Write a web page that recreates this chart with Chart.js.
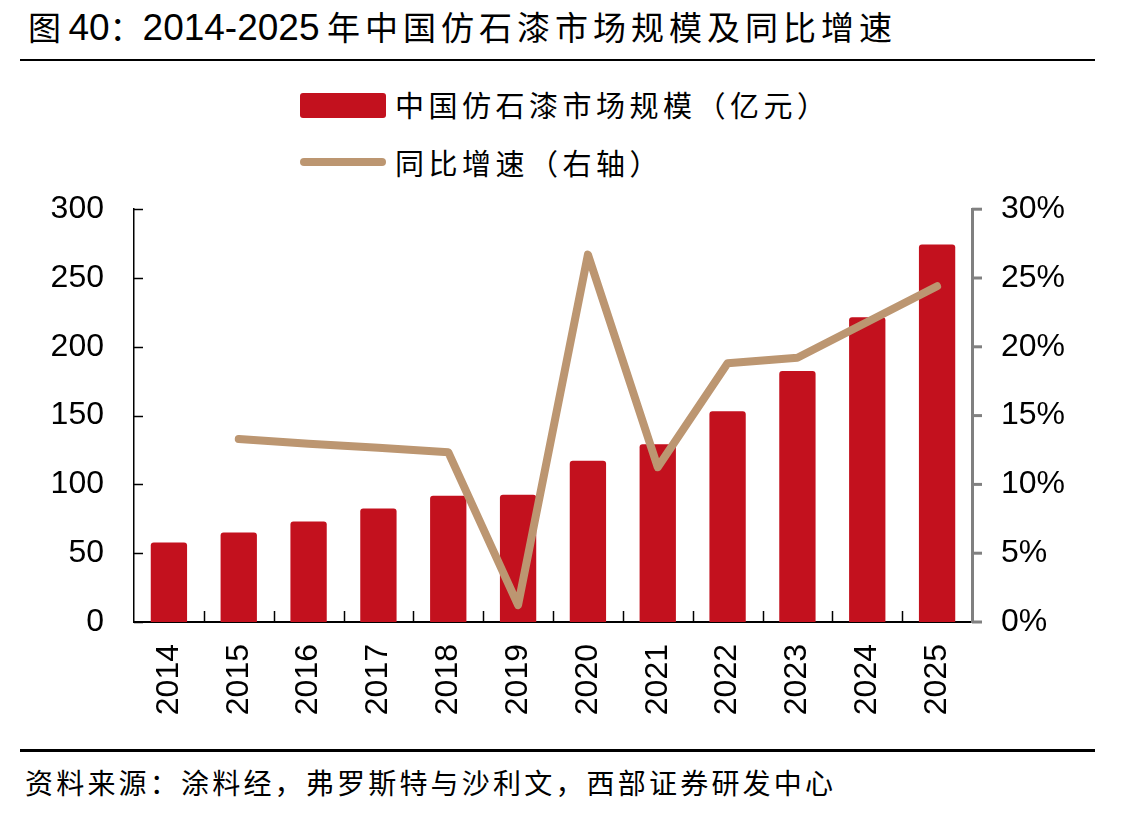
<!DOCTYPE html>
<html>
<head>
<meta charset="utf-8">
<script src="https://cdn.jsdelivr.net/npm/chart.js@4.4.1/dist/chart.umd.min.js"></script>
<style>
  html, body { margin: 0; padding: 0; background: #fff; }
  body { width: 1144px; height: 818px; position: relative; overflow: hidden; font-family: "Noto Sans CJK SC", sans-serif; color: #000; }
  .title { position: absolute; left: 28px; top: 4px; font-size: 33px; line-height: 44px; white-space: nowrap; }
  .title .num { font-family: "Liberation Sans Narrow", "Liberation Sans", Arial, sans-serif; font-size: 37px; }
  .title .cjk { letter-spacing: 5px; }
  .rule { position: absolute; left: 20px; width: 1075px; background: #000; }
  .legend { position: absolute; left: 300px; font-size: 29px; line-height: 40px; white-space: nowrap; letter-spacing: 4.5px; }
  .legend .sw { position: absolute; left: 0; width: 86px; }
  .legend span.txt { position: absolute; left: 95px; top: 0; }
  .source { position: absolute; left: 25px; top: 762px; font-size: 28px; line-height: 40px; white-space: nowrap; letter-spacing: 3.2px; }
  #wrap { position: absolute; left: 0; top: 160px; width: 1144px; height: 590px; }
</style>
</head>
<body>
<div class="title">图 <span class="num">40</span>：<span class="num">2014-2025</span> <span class="cjk">年中国仿石漆市场规模及同比增速</span></div>
<div class="rule" style="top:59px;height:2px;"></div>

<div class="legend" style="top:84px;">
  <div class="sw" style="top:9px;height:25px;background:#C3111E;border-radius:3px;"></div>
  <span class="txt">中国仿石漆市场规模（亿元）</span>
</div>
<div class="legend" style="top:142px;">
  <div class="sw" style="top:16px;height:8px;background:#BC9671;border-radius:4px;"></div>
  <span class="txt">同比增速（右轴）</span>
</div>

<div id="wrap"><canvas id="chart"></canvas></div>

<div class="rule" style="top:749px;height:3px;"></div>
<div class="source">资料来源：涂料经，弗罗斯特与沙利文，西部证券研发中心</div>

<script>
// Data
const years = ['2014', '2015', '2016', '2017', '2018', '2019', '2020', '2021', '2022', '2023', '2024', '2025'];
const marketSize = [57.8, 65.0, 73.0, 82.4, 91.8, 92.5, 117.2, 129.2, 153.1, 182.4, 221.5, 274.4]; // 亿元
const yoyGrowth = [null, 13.3, 12.95, 12.66, 12.34, 1.23, 26.7, 11.25, 18.8, 19.2, 21.8, 24.4]; // %
const leftTicks = [0, 50, 100, 150, 200, 250, 300];
const rightTicks = [0, 5, 10, 15, 20, 25, 30];

const barColor = '#C3111E';
const lineColor = '#BC9671';
const axisFont = { family: '"Liberation Sans", Arial, sans-serif', size: 32 };

// Draw the small tick marks: inward on the left axis, outward grey on the right, upward between categories
const tickMarks = {
    id: 'tickMarks',
    afterDraw(chart) {
        const ctx = chart.ctx;
        const area = chart.chartArea;
        const y = chart.scales.y, y1 = chart.scales.y1, x = chart.scales.x;
        ctx.save();

        ctx.strokeStyle = '#000';
        ctx.lineWidth = 1.5;
        leftTicks.forEach(v => {
            const py = Math.round(y.getPixelForValue(v)) + 0.5;
            ctx.beginPath();
            ctx.moveTo(area.left, py);
            ctx.lineTo(area.left + 9, py);
            ctx.stroke();
        });

        ctx.strokeStyle = '#808080';
        ctx.lineWidth = 3;
        rightTicks.forEach(v => {
            const py = y1.getPixelForValue(v);
            ctx.beginPath();
            ctx.moveTo(area.right, py);
            ctx.lineTo(area.right + 10, py);
            ctx.stroke();
        });

        ctx.strokeStyle = '#000';
        ctx.lineWidth = 1.5;
        for (let i = 1; i < years.length; i++) {
            const px = Math.round((x.getPixelForValue(i - 1) + x.getPixelForValue(i)) / 2) + 0.5;
            ctx.beginPath();
            ctx.moveTo(px, area.bottom);
            ctx.lineTo(px, area.bottom - 11);
            ctx.stroke();
        }
        ctx.restore();
    }
};

new Chart(document.getElementById('chart'), {
    data: {
        labels: years,
        datasets: [
            {
                type: 'line',
                label: '同比增速（右轴）',
                data: yoyGrowth,
                yAxisID: 'y1',
                borderColor: lineColor,
                backgroundColor: lineColor,
                borderWidth: 8,
                borderCapStyle: 'round',
                borderJoinStyle: 'round',
                pointRadius: 0,
                tension: 0,
                spanGaps: false,
                order: 0
            },
            {
                type: 'bar',
                label: '中国仿石漆市场规模（亿元）',
                data: marketSize,
                yAxisID: 'y',
                backgroundColor: barColor,
                borderRadius: { topLeft: 3, topRight: 3 },
                borderSkipped: 'bottom',
                barPercentage: 0.52,
                categoryPercentage: 1.0,
                order: 1
            }
        ]
    },
    options: {
        responsive: true,
        maintainAspectRatio: false,
        animation: false,
        layout: { padding: { top: 20, left: 0, right: 0, bottom: 0 } },
        plugins: {
            legend: { display: false },
            tooltip: { enabled: false }
        },
        scales: {
            x: {
                grid: { display: false, drawTicks: false },
                border: { display: true, color: '#000', width: 2 },
                ticks: {
                    color: '#000',
                    font: axisFont,
                    minRotation: 90,
                    maxRotation: 90,
                    padding: 22,
                    autoSkip: false
                },
                afterFit(scale) { scale.height = 128; }
            },
            y: {
                position: 'left',
                min: 0,
                max: 300,
                grid: { display: false, drawTicks: false },
                border: { display: true, color: '#000', width: 1.5 },
                ticks: {
                    stepSize: 50,
                    color: '#000',
                    font: axisFont,
                    padding: 30
                },
                afterFit(scale) { scale.width = 134; }
            },
            y1: {
                position: 'right',
                min: 0,
                max: 30,
                grid: { display: false, drawTicks: false },
                border: { display: true, color: '#808080', width: 3 },
                ticks: {
                    stepSize: 5,
                    color: '#000',
                    font: axisFont,
                    padding: 29,
                    callback: v => v + '%'
                },
                afterFit(scale) { scale.width = 172; }
            }
        }
    },
    plugins: [tickMarks]
});
</script>
</body>
</html>
